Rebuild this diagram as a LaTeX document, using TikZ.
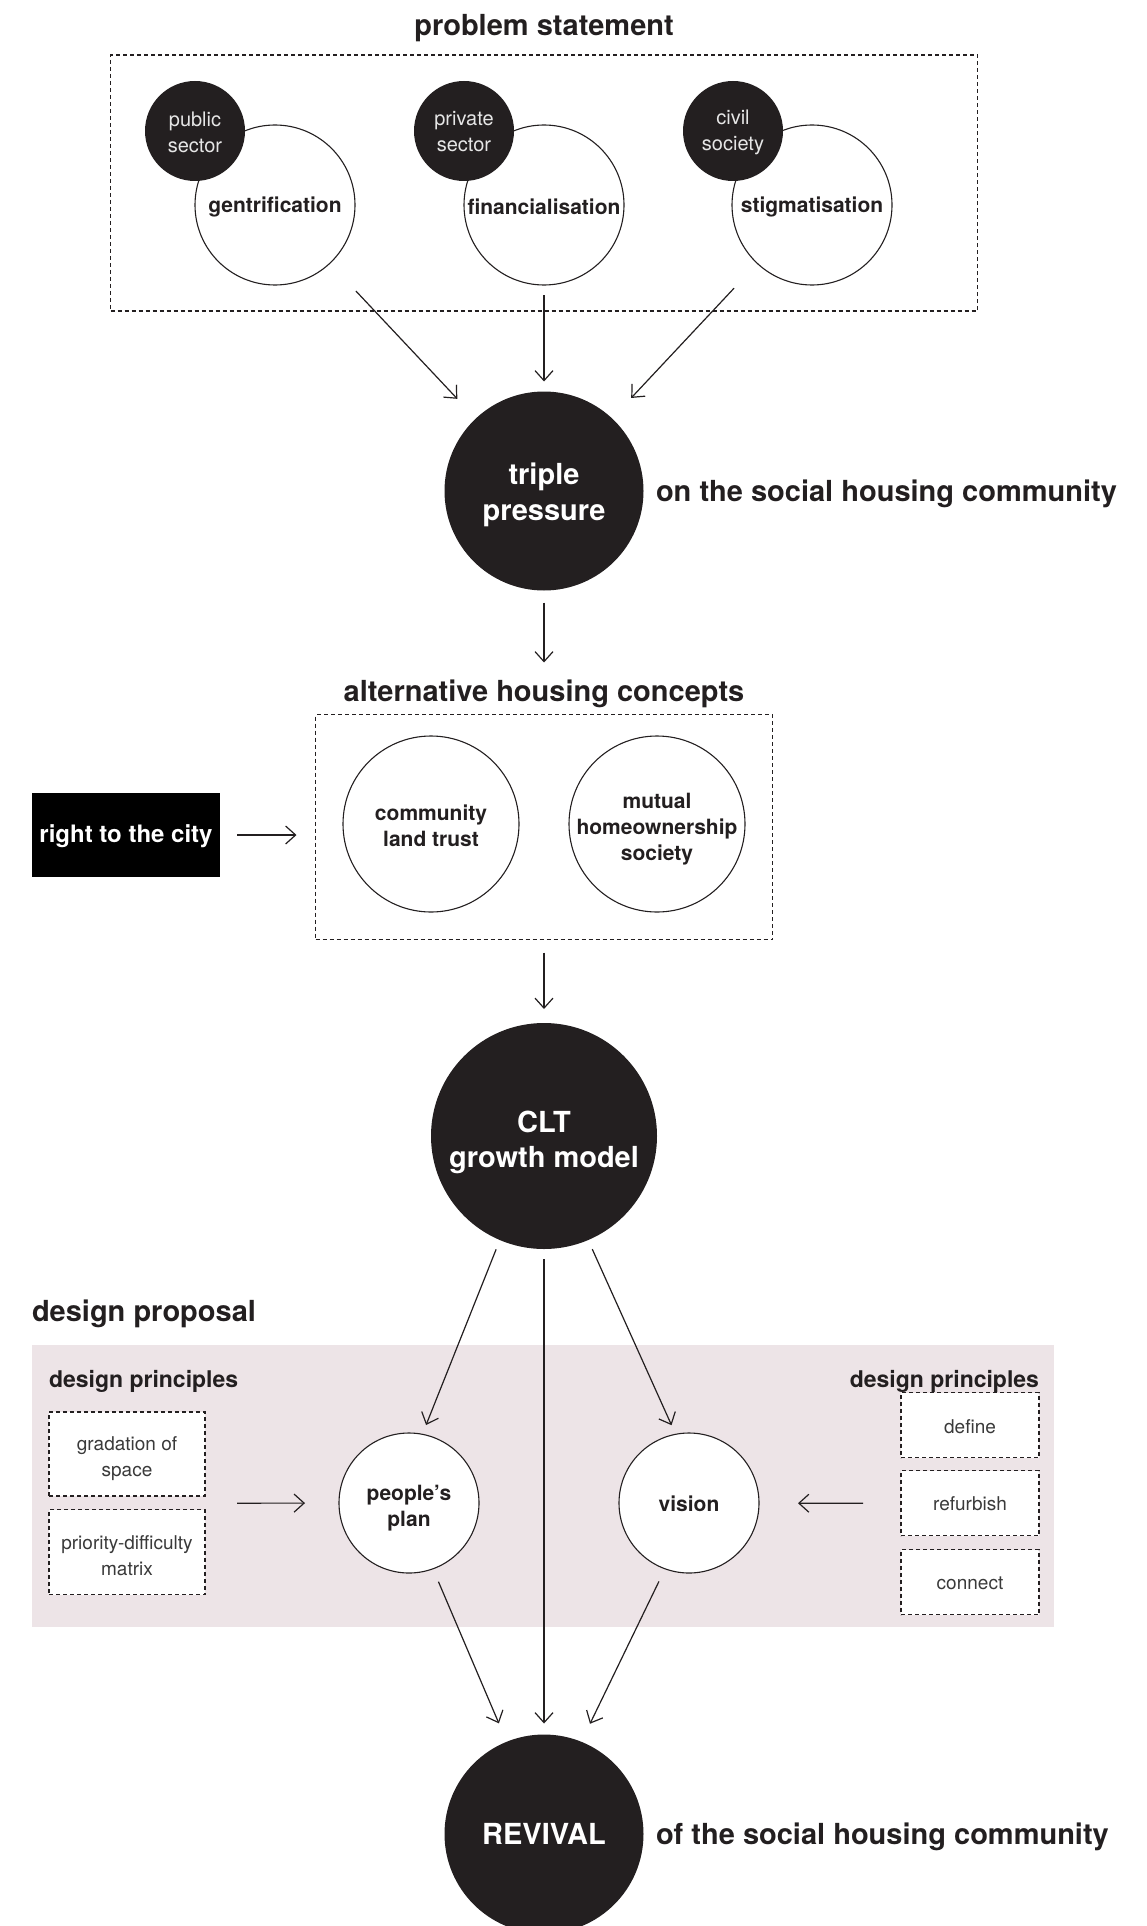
\documentclass[tikz,border=0pt]{standalone}
\usepackage{fontspec}
\setmainfont{TeX Gyre Heros}
\usetikzlibrary{arrows.meta,fit}

\definecolor{ink}{HTML}{231F20}
\definecolor{blush}{HTML}{EDE4E7}
\definecolor{softgrey}{HTML}{3A3A3A}
\definecolor{paleink}{HTML}{E6E6E6}

\newcommand\fsHead{\fontsize{29}{36}\selectfont\bfseries}
\newcommand\fsMid{\fontsize{24}{30}\selectfont\bfseries}
\newcommand\fsSub{\fontsize{23}{28}\selectfont\bfseries}
\newcommand\fsBold{\fontsize{21}{26}\selectfont\bfseries}
\newcommand\fsLight{\fontsize{20}{26}\selectfont}
\newcommand\fsBox{\fontsize{19}{26}\selectfont}

\begin{document}
\begin{tikzpicture}[x=1pt,y=-1pt,
  every node/.style={inner sep=0pt, outer sep=0pt, align=center, text=ink},
  darkdisc/.style={circle, fill=ink, minimum size=#1},
  opendisc/.style={circle, draw=ink, fill=white, line width=1.1pt, minimum size=#1},
  dashframe/.style={draw=ink, line width=1.2pt, dash pattern=on 4pt off 3pt},
  headtext/.style={font=\fsHead, yshift=-3pt},
  flowarrow/.style={draw=ink, line width=1.2pt,
    -{Straight Barb[length=10pt, width=18pt, line width=1.2pt]}},
]
\useasboundingbox (0,0) rectangle (1147,1926);

% ---------- problem statement ----------
\node[headtext] (probtitle) at (544,25) {problem statement};
\node[dashframe, minimum width=867, minimum height=256] (probbox) at (544,183) {};

\node[opendisc=160, label={[font=\fsBold, yshift=-2pt]center:gentrification}] (gent) at (275,205) {};
\node[opendisc=160, label={[font=\fsBold, yshift=-1.5pt]center:financialisation}] (fin) at (544,205) {};
\node[opendisc=160, label={[font=\fsBold, yshift=-2pt]center:stigmatisation}] (stig) at (812,205) {};

\node[darkdisc=100, label={[font=\fsLight, text=paleink, yshift=-1pt]center:public\\sector}] (pub) at (195,131) {};
\node[darkdisc=100, label={[font=\fsLight, text=paleink, yshift=-1pt]center:private\\sector}] (priv) at (464,131) {};
\node[darkdisc=100, label={[font=\fsLight, text=paleink, yshift=-1pt]center:civil\\society}] (civ) at (733,131) {};

% ---------- triple pressure ----------
\node[darkdisc=199, label={[font=\fsHead, text=white, yshift=-4pt]center:triple\\pressure}] (triple) at (544,491) {};
\node[headtext, anchor=west] (onlabel) at (656,491) {on the social housing community};

\draw[flowarrow, shorten <=38pt, shorten >=27pt] (gent) -- (triple);
\draw[flowarrow, shorten <=10pt, shorten >=10pt] (fin) -- (triple);
\draw[flowarrow, shorten <=34pt, shorten >=28pt] (stig) -- (triple);

% ---------- alternative housing concepts ----------
\node[headtext] (alttitle) at (544,691) {alternative housing concepts};
\node[dashframe, minimum width=457, minimum height=225] (altbox) at (544,827) {};

\node[opendisc=176, label={[font=\fsBold, yshift=-2pt]center:community\\land trust}] (clt) at (431,824) {};
\node[opendisc=176, label={[font=\fsBold, yshift=-5pt]center:mutual\\homeownership\\society}] (mhs) at (657,824) {};

\node[fill=black, minimum width=188, minimum height=84,
  label={[font=\fsMid, text=white, yshift=-1pt]center:right to the city}]
  (rtc) at (126,835) {};

\draw[flowarrow, shorten <=12pt, shorten >=52pt] (triple) -- (altbox);
\draw[flowarrow, shorten <=17pt, shorten >=19pt] (rtc.east) -- (rtc.east -| altbox.west);

% ---------- CLT growth model ----------
\node[darkdisc=226, label={[font=\fontsize{29}{35}\selectfont\bfseries, text=white, yshift=-6pt]center:CLT\\growth model}] (growth) at (544,1136) {};
\draw[flowarrow, shorten <=13pt, shorten >=14pt] (altbox) -- (growth);

% ---------- design proposal ----------
\node[headtext, anchor=west] (dptitle) at (32,1311) {design proposal};
\node[fill=blush, minimum width=1022, minimum height=282] (panel) at (543,1486) {};

\node[font=\fsSub, anchor=west, yshift=-2.5pt] (dpleft) at (49,1379) {design principles};
\node[font=\fsSub, anchor=east, yshift=-2.5pt] (dpright) at (1039,1379) {design principles};

\node[dashframe, fill=white, minimum width=156, minimum height=84,
  label={[font=\fsBox, text=softgrey, yshift=-5pt]center:gradation of\\space}]
  (grad) at (127,1454) {};
\node[dashframe, fill=white, minimum width=156, minimum height=85,
  label={[font=\fsBox, text=softgrey, yshift=-4pt]center:priority-difficulty\\matrix}]
  (prio) at (127,1552) {};

\node[dashframe, fill=white, minimum width=138, minimum height=65,
  label={[font=\fsBox, text=softgrey, yshift=-2pt]center:define}] (define) at (970,1425) {};
\node[dashframe, fill=white, minimum width=138, minimum height=65,
  label={[font=\fsBox, text=softgrey, yshift=-1pt]center:refurbish}] (refurb) at (970,1503) {};
\node[dashframe, fill=white, minimum width=138, minimum height=65,
  label={[font=\fsBox, text=softgrey, yshift=-1pt]center:connect}] (connect) at (970,1582) {};

\node[fit=(grad)(prio)] (leftgroup) {};
\node[fit=(define)(connect)] (rightgroup) {};

\node[opendisc=140, label={[font=\fsBold, yshift=-5pt]center:people’s\\plan}] (people) at (409,1503) {};
\node[opendisc=140, label={[font=\fsBold, yshift=-1pt]center:vision}] (vision) at (689,1503) {};

\draw[flowarrow, shorten <=32pt, shorten >=34pt] (leftgroup) -- (people);
\draw[flowarrow, shorten <=38pt, shorten >=39pt] (rightgroup) -- (vision);

% ---------- revival ----------
\node[darkdisc=199, label={[font=\fsHead, text=white]center:REVIVAL}] (revival) at (544,1834) {};
\node[headtext, anchor=west] (oflabel) at (656,1834) {of the social housing community};

\draw[flowarrow, shorten <=10pt, shorten >=10pt] (growth.247) -- (people.79);
\draw[flowarrow, shorten <=10pt, shorten >=10pt] (growth.293) -- (vision.101);
\draw[flowarrow, shorten <=10pt, shorten >=11pt] (growth) -- (revival);
\draw[flowarrow, shorten <=14pt, shorten >=20pt] (people.290) -- (revival.112);
\draw[flowarrow, shorten <=14pt, shorten >=20pt] (vision.250) -- (revival.68);
\end{tikzpicture}
\end{document}
